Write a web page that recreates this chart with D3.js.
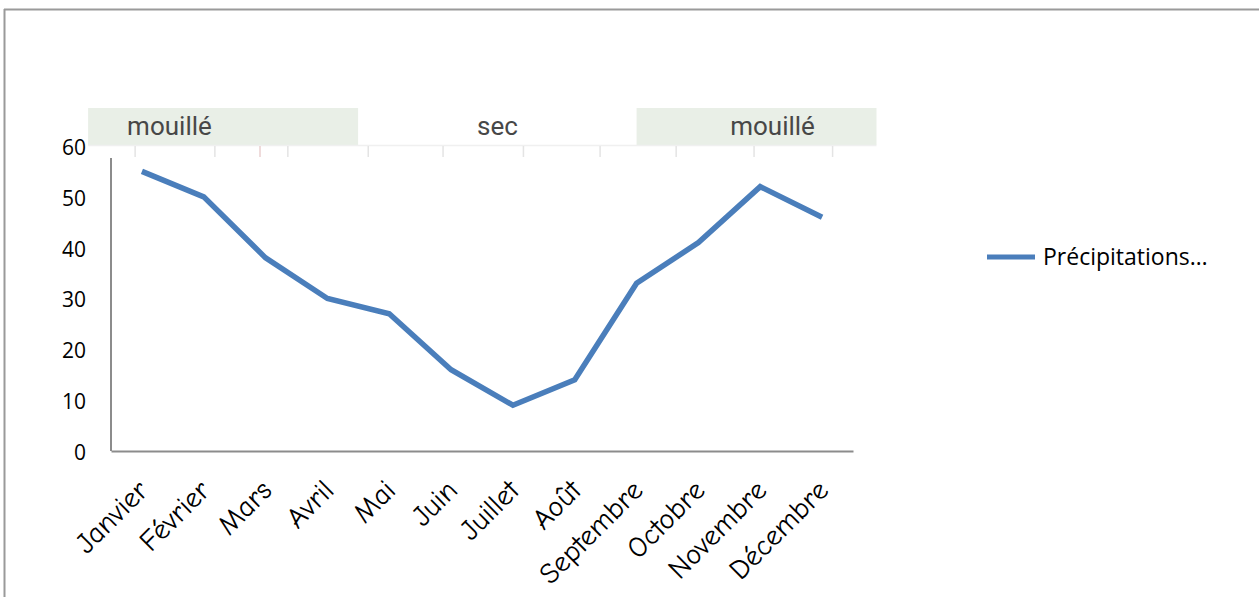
<!DOCTYPE html>
<html lang="fr">
<head>
<meta charset="utf-8">
<script src="https://cdn.jsdelivr.net/npm/d3@7"></script>
<style>
  html, body { margin: 0; padding: 0; background: #fff; }
  svg { display: block; }
</style>
</head>
<body>
<svg id="chart" width="1259" height="597"></svg>
<script>
// Précipitations mensuelles (mm)
const months = ["Janvier", "Février", "Mars", "Avril", "Mai", "Juin", "Juillet",
                "Août", "Septembre", "Octobre", "Novembre", "Décembre"];
const precipitation = [55, 50, 38, 30, 27, 16, 9, 14, 33, 41, 52, 46];
const yTicks = [0, 10, 20, 30, 40, 50, 60];
const seriesName = "Précipitations…";

// Saisons affichées au-dessus du graphique (indices de mois de début/fin)
const seasonLabels = ["mouillé", "sec", "mouillé"];
const seasonStart = [-0.87, 3.5, 8.0];
const seasonEnd = [3.5, 8.0, 11.88];
const seasonShaded = [true, false, true];

const svg = d3.select("#chart");
const W = 1259, H = 597;
const plot = { left: 111, right: 853, top: 146, bottom: 451 };

// Cadre extérieur
svg.append("line").attr("x1", 4).attr("x2", W).attr("y1", 9.5).attr("y2", 9.5)
  .attr("stroke", "#9a9a9a").attr("stroke-width", 2);
svg.append("line").attr("x1", 4.5).attr("x2", 4.5).attr("y1", 9).attr("y2", H)
  .attr("stroke", "#9a9a9a").attr("stroke-width", 2);

const x = d3.scaleBand().domain(months).range([plot.left, plot.right]);
const xc = m => x(m) + x.bandwidth() / 2;
const y = d3.scaleLinear().domain([0, 60]).range([plot.bottom, plot.top]);

// Position continue sur l'axe des mois (index → pixel)
const xi = d3.scaleLinear().domain([0, months.length - 1])
  .range([xc(months[0]), xc(months[months.length - 1])]);

// Bandeau des saisons
const strip = svg.append("g");
const stripTop = 108, stripBottom = 145;
strip.selectAll("rect").data(seasonLabels).join("rect")
  .attr("x", (d, i) => xi(seasonStart[i]))
  .attr("width", (d, i) => xi(seasonEnd[i]) - xi(seasonStart[i]))
  .attr("y", stripTop).attr("height", stripBottom - stripTop)
  .attr("fill", (d, i) => seasonShaded[i] ? "#e9efe7" : "#ffffff");
strip.append("line")
  .attr("x1", xi(seasonStart[0])).attr("x2", xi(seasonEnd[2]))
  .attr("y1", stripBottom + 0.5).attr("y2", stripBottom + 0.5)
  .attr("stroke", "#f0f0f0").attr("stroke-width", 1.5);
// Graduations légères sous le bandeau
const stripTicks = [-0.11, 1.18, 1.91, 2.36, 3.66, 4.87, 6.17, 7.41, 8.64, 9.9, 11.17];
strip.selectAll("line.st").data(stripTicks).join("line").attr("class", "st")
  .attr("x1", d => xi(d)).attr("x2", d => xi(d))
  .attr("y1", stripBottom + 1).attr("y2", 157)
  .attr("stroke", (d, i) => i === 2 ? "#ead0d0" : "#e4e4e4").attr("stroke-width", 1.5);
strip.selectAll("text").data(seasonLabels).join("text")
  .attr("x", (d, i) => i === 0 ? xi(seasonStart[0]) + 39 : (xi(seasonStart[i]) + xi(seasonEnd[i])) / 2 + (i === 2 ? 16 : 0))
  .attr("y", 135)
  .attr("text-anchor", (d, i) => i === 0 ? "start" : "middle")
  .attr("font-family", "Roboto, 'Liberation Sans', sans-serif")
  .attr("font-size", 26)
  .attr("fill", "#474747")
  .text(d => d);

// Axe des ordonnées (libellés seuls) et trait vertical
const yAxis = svg.append("g").attr("transform", `translate(${plot.left},0)`)
  .call(d3.axisLeft(y).tickValues(yTicks).tickSize(0).tickPadding(25));
yAxis.select(".domain").remove();
yAxis.selectAll("text")
  .attr("font-family", "'Open Sans', 'Liberation Sans', sans-serif")
  .attr("font-size", 21).attr("fill", "#000").attr("dy", "0.4em");
svg.append("line").attr("x1", plot.left).attr("x2", plot.left)
  .attr("y1", 158).attr("y2", plot.bottom)
  .attr("stroke", "#8c8c8c").attr("stroke-width", 2);

// Axe des abscisses
const xAxis = svg.append("g").attr("transform", `translate(0,${plot.bottom})`)
  .call(d3.axisBottom(x).tickSize(0).tickPadding(0));
xAxis.select(".domain").attr("stroke", "#8c8c8c").attr("stroke-width", 2);
xAxis.selectAll("text")
  .attr("font-family", "'Comic Sans MS', 'Comic Neue', 'DejaVu Sans', sans-serif")
  .attr("font-size", 29).attr("fill", "#000")
  .attr("text-anchor", "end")
  .attr("dy", 0)
  .attr("transform", "translate(8,41) rotate(-45)");

// Courbe des précipitations
const line = d3.line().x((d, i) => xc(months[i])).y(d => y(d));
svg.append("path").datum(precipitation)
  .attr("d", line)
  .attr("fill", "none")
  .attr("stroke", "#4a7ebb")
  .attr("stroke-width", 5.5)
  .attr("stroke-linejoin", "miter");

// Légende
const legend = svg.append("g").attr("transform", "translate(987,257)");
legend.append("line").attr("x1", 0).attr("x2", 48).attr("y1", 0).attr("y2", 0)
  .attr("stroke", "#4a7ebb").attr("stroke-width", 5);
legend.append("text").attr("x", 56).attr("y", 0).attr("dy", "0.35em")
  .attr("font-family", "'Open Sans', 'Liberation Sans', sans-serif")
  .attr("font-size", 23).attr("fill", "#000")
  .text(seriesName);
</script>
</body>
</html>
